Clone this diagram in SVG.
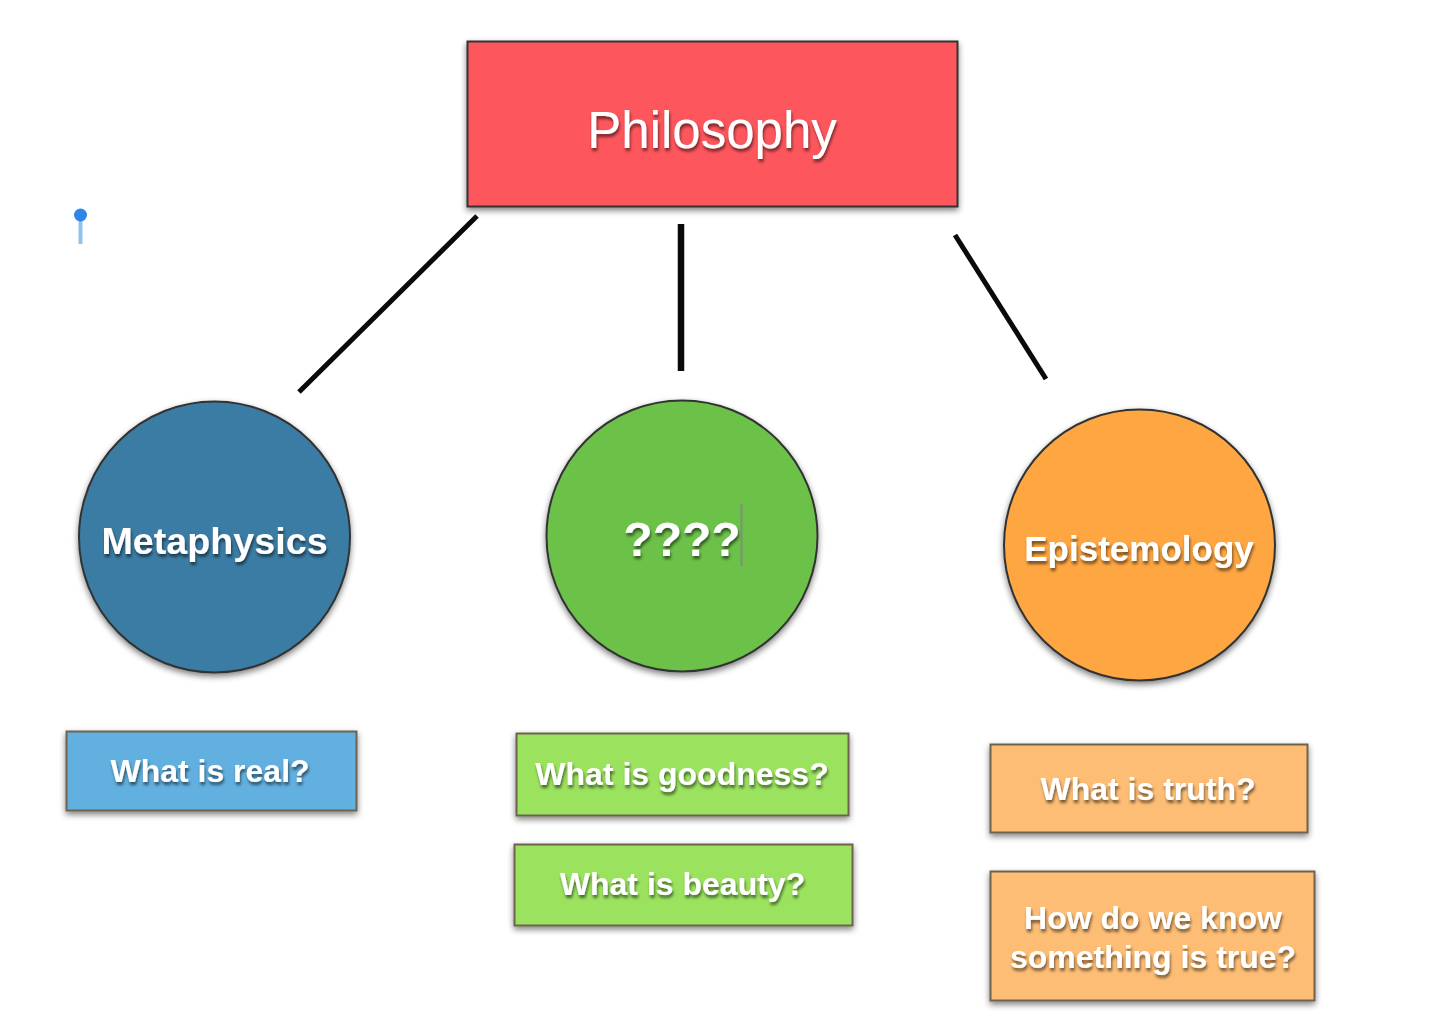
<svg xmlns="http://www.w3.org/2000/svg" width="1440" height="1036" viewBox="0 0 1440 1036">
<defs>
<filter id="shadow" x="-15%" y="-15%" width="130%" height="130%"><feGaussianBlur in="SourceAlpha" stdDeviation="3"/><feOffset dx="0" dy="3"/><feComponentTransfer><feFuncA type="linear" slope="0.5"/></feComponentTransfer><feMerge><feMergeNode/><feMergeNode in="SourceGraphic"/></feMerge></filter>
<filter id="textshadow" x="-15%" y="-30%" width="130%" height="170%"><feGaussianBlur in="SourceGraphic" stdDeviation="0.6" result="s"/><feGaussianBlur in="SourceAlpha" stdDeviation="1.8"/><feOffset dx="1" dy="3"/><feComponentTransfer><feFuncA type="linear" slope="0.55"/></feComponentTransfer><feMerge><feMergeNode/><feMergeNode in="s"/></feMerge></filter>
</defs>
<style>
.shape{stroke:#333;stroke-width:2;filter:url(#shadow)}
.box{stroke:#6e6250;stroke-width:2;filter:url(#shadow)}
text{font-family:"Liberation Sans",Arial,sans-serif;fill:#fff;text-anchor:middle;filter:url(#textshadow)}
.b{font-weight:bold}
.q{font-size:32px}
line.conn{stroke:#0a0a0a;stroke-width:5}
</style>
<rect width="1440" height="1036" fill="#fff"/>
<g id="connectors">
<line class="conn" x1="477" y1="216" x2="299" y2="392"/>
<line class="conn" x1="681" y1="224" x2="681" y2="371" style="stroke-width:6.500"/>
<line class="conn" x1="955" y1="235" x2="1046" y2="379"/>
</g>
<g id="philosophy"><rect class="shape" x="467.500" y="41.500" width="490" height="165" fill="#fd575c"/><text x="712" y="148" font-size="51">Philosophy</text></g>
<g id="metaphysics"><circle class="shape" cx="214.500" cy="537" r="135.500" fill="#3b7ca4"/><text class="b" x="214.500" y="554" font-size="37.700">Metaphysics</text></g>
<g id="unknown"><circle class="shape" cx="682" cy="536" r="135.500" fill="#6cc24a"/><text class="b" x="682" y="556" font-size="48">????</text><line x1="741.500" y1="504" x2="741.500" y2="566" stroke="#7f8f78" stroke-width="2"/></g>
<g id="epistemology"><circle class="shape" cx="1139.500" cy="545" r="135.500" fill="#fea643"/><text class="b" x="1139" y="561" font-size="35">Epistemology</text></g>
<g id="real"><rect class="box" x="66.500" y="731.500" width="290" height="79" fill="#62b0e0"/><text class="b q" x="210" y="782">What is real?</text></g>
<g id="goodness"><rect class="box" x="516.500" y="733.500" width="332" height="82" fill="#9be35f"/><text class="b q" x="682" y="785">What is goodness?</text></g>
<g id="beauty"><rect class="box" x="514.500" y="844.500" width="338" height="81" fill="#9be35f"/><text class="b q" x="682.500" y="895">What is beauty?</text></g>
<g id="truth"><rect class="box" x="990.500" y="744.500" width="317" height="88" fill="#fdbd74"/><text class="b q" x="1148" y="800">What is truth?</text></g>
<g id="know"><rect class="box" x="990.500" y="871.500" width="324" height="129" fill="#fdbd74"/><text class="b q" x="1153" y="929">How do we know</text><text class="b q" x="1153" y="968">something is true?</text></g>
<g id="pin"><line x1="80.500" y1="218" x2="80.500" y2="244" stroke="#8fc3ee" stroke-width="4"/><circle cx="80.500" cy="215" r="6.500" fill="#2f86e6"/></g>
</svg>
